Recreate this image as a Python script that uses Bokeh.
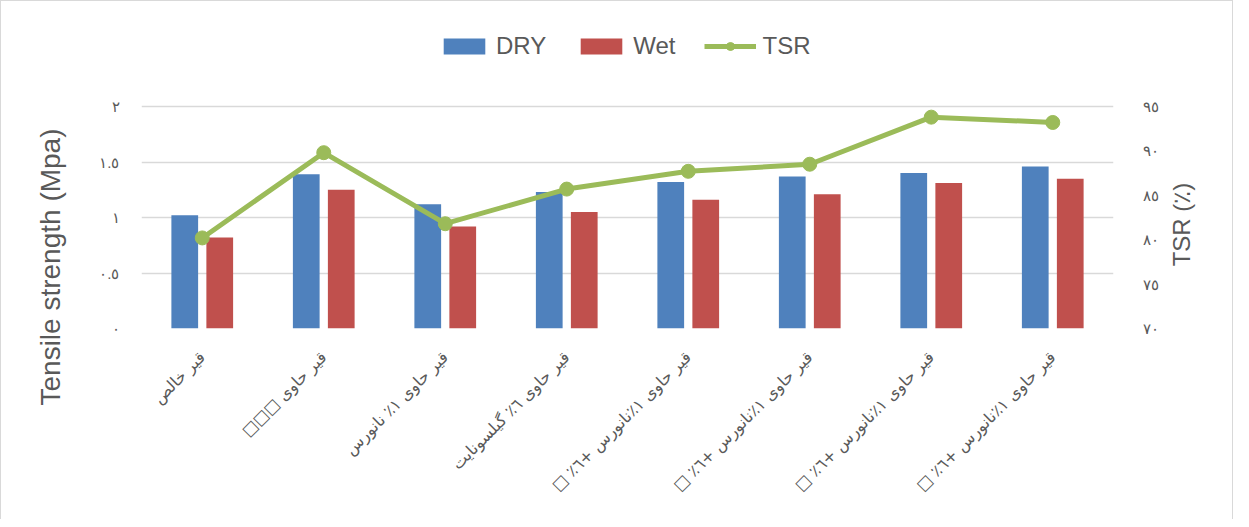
import math
from bokeh.plotting import figure
from bokeh.models import Range1d, LinearAxis, FixedTicker, Legend, LegendItem, ColumnDataSource, Title
from bokeh.transform import dodge
from bokeh.embed import file_html
from bokeh.resources import INLINE

categories = [
    "قیر خالص",
    "قیر حاوی □□□\u200f",
    "قیر حاوی ١٪ نانورس",
    "قیر حاوی ٦٪ گیلسونایت",
    "قیر حاوی ١٪نانورس +٦٪ □\u200f",
    "قیر حاوی ١٪نانورس +٦٪ □\u200f",
    "قیر حاوی ١٪نانورس +٦٪ □\u200f",
    "قیر حاوی ١٪نانورس +٦٪ □\u200f",
]
dry = [1.02, 1.39, 1.12, 1.23, 1.32, 1.37, 1.40, 1.46]
wet = [0.82, 1.25, 0.92, 1.05, 1.16, 1.21, 1.31, 1.35]
tsr = [80.2, 89.8, 81.8, 85.7, 87.7, 88.5, 93.8, 93.2]

left_ticks = [0, 0.5, 1, 1.5, 2]
left_labels = ["٠", "٠.٥", "١", "١.٥", "٢"]
right_ticks = [70, 75, 80, 85, 90, 95]
right_labels = ["٧٠", "٧٥", "٨٠", "٨٥", "٩٠", "٩٥"]

xs = list(range(len(categories)))
src = ColumnDataSource(dict(x=xs, dry=dry, wet=wet, tsr=tsr))

GRAY = "#595959"

# frame extends above the top gridline to hold the legend (page y 33..335, gridlines 113..335)
stretch = (335 - 33) / (335 - 113)

p = figure(width=1233, height=519, output_backend="svg", toolbar_location=None,
           x_range=Range1d(-0.5, len(categories) - 0.5), y_range=Range1d(0, 2 * stretch),
           min_border_left=139, min_border_right=121, min_border_top=25, min_border_bottom=192)
p.styles = {"border-left": "1px solid #D9D9D9", "border-top": "1px solid #D9D9D9",
            "border-right": "1px solid #D9D9D9"}
p.outline_line_color = None
p.xgrid.grid_line_color = None
p.ygrid.grid_line_color = "#D9D9D9"
p.ygrid.grid_line_width = 1.5

p.extra_y_ranges = {"tsr": Range1d(70, 70 + 25 * stretch)}

r_dry = p.vbar(x=dodge("x", -0.144, range=p.x_range), top="dry", width=0.22, source=src,
               fill_color="#4F81BD", line_color=None)
r_wet = p.vbar(x=dodge("x", 0.144, range=p.x_range), top="wet", width=0.22, source=src,
               fill_color="#C0504D", line_color=None)
r_line = p.line(x="x", y="tsr", source=src, y_range_name="tsr", line_color="#9BBB59", line_width=5)
r_pts = p.scatter(x="x", y="tsr", source=src, y_range_name="tsr", size=14,
                  fill_color="#9BBB59", line_color="#9BBB59")

# x axis
xa = p.xaxis[0]
xa.ticker = FixedTicker(ticks=xs)
xa.major_label_overrides = {i: c for i, c in enumerate(categories)}
xa.major_label_orientation = math.pi / 4
xa.axis_line_color = None
xa.major_tick_line_color = None
xa.minor_tick_line_color = None
xa.major_label_text_color = GRAY
xa.major_label_text_font = "DejaVu Sans"
xa.major_label_text_font_size = "16px"
xa.major_label_standoff = 20

# left axis
ya = p.yaxis[0]
ya.ticker = FixedTicker(ticks=left_ticks)
ya.major_label_overrides = {t: l for t, l in zip(left_ticks, left_labels)}
ya.axis_line_color = None
ya.major_tick_line_color = None
ya.minor_tick_line_color = None
ya.major_label_text_color = GRAY
ya.major_label_text_font_size = "15px"
ya.major_label_standoff = 16

left_title = Title(text="Tensile strength (Mpa)", align="left", offset=-77, standoff=62,
                   text_font="Liberation Sans", text_font_style="normal",
                   text_font_size="28px", text_color=GRAY)
p.add_layout(left_title, "left")

# right axis
ra = LinearAxis(y_range_name="tsr", ticker=FixedTicker(ticks=right_ticks))
ra.major_label_overrides = {t: l for t, l in zip(right_ticks, right_labels)}
ra.axis_line_color = None
ra.major_tick_line_color = None
ra.minor_tick_line_color = None
ra.major_label_text_color = GRAY
ra.major_label_text_font_size = "15px"
ra.major_label_standoff = 23
p.add_layout(ra, "right")

# right title, drawn as the single label of a bare outer axis so it reads bottom-to-top
title_tick = 77
rt = LinearAxis(y_range_name="tsr", ticker=FixedTicker(ticks=[title_tick]))
rt.major_label_overrides = {title_tick: "TSR (٪)"}
rt.major_label_orientation = math.pi / 2
rt.axis_line_color = None
rt.major_tick_line_color = None
rt.minor_tick_line_color = None
rt.major_label_text_color = GRAY
rt.major_label_text_font = "Liberation Sans"
rt.major_label_text_font_size = "24px"
rt.major_label_standoff = 14
p.add_layout(rt, "right")

legend = Legend(items=[
    LegendItem(label="DRY", renderers=[r_dry]),
    LegendItem(label="Wet", renderers=[r_wet]),
    LegendItem(label="TSR", renderers=[r_line, r_pts]),
], orientation="horizontal", location=(297, 268), padding=0, margin=0, spacing=29,
    glyph_width=52, glyph_height=20, label_standoff=6, label_height=20,
    label_text_font="Liberation Sans", label_text_font_size="24px", label_text_color=GRAY,
    label_text_baseline="alphabetic",
    border_line_color=None, background_fill_alpha=0)
p.add_layout(legend, "center")

open("out.html", "w").write(file_html(p, INLINE))
